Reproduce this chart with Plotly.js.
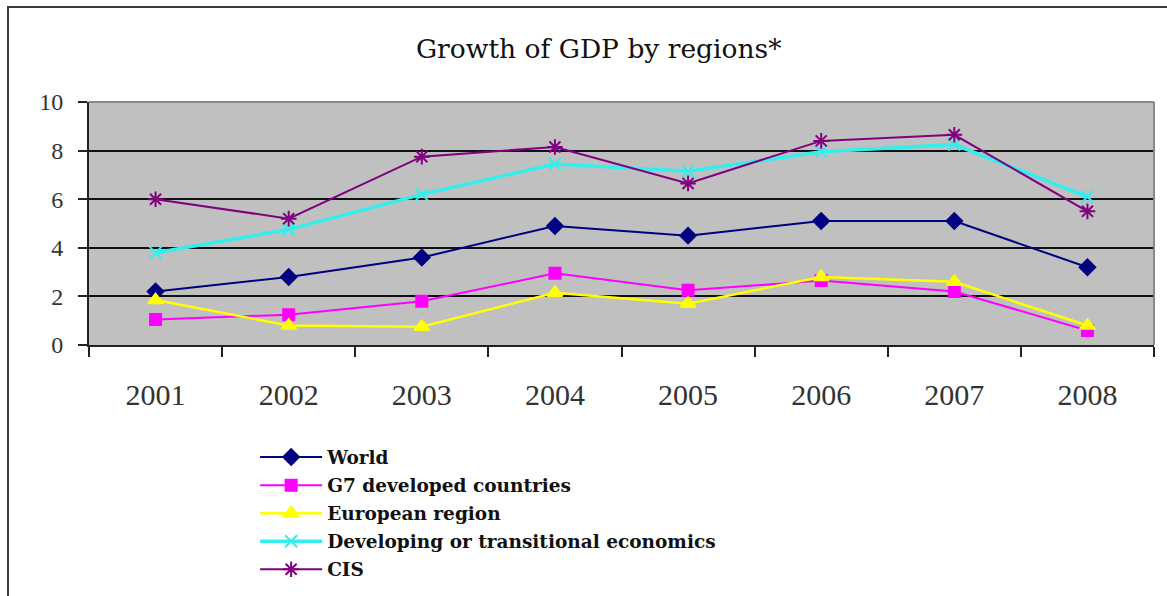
<!DOCTYPE html>
<html>
<head>
<meta charset="utf-8">
<script src="https://cdn.plot.ly/plotly-3.0.1.min.js"></script>
<style>
  html, body { margin: 0; padding: 0; background: #ffffff; }
  #wrap { position: relative; width: 1167px; height: 596px; overflow: hidden; }
  #chart { width: 1167px; height: 596px; }
  #frame { position: absolute; left: 7px; top: 6px; right: -10px; bottom: -10px;
           border-left: 2px solid #3a3a3a; border-top: 2px solid #3a3a3a; pointer-events: none; }
</style>
</head>
<body>
<div id="wrap">
  <div id="chart"></div>
  <div id="frame"></div>
</div>
<script>
const years = ["2001", "2002", "2003", "2004", "2005", "2006", "2007", "2008"];
const world      = [2.2, 2.8, 3.6, 4.9, 4.5, 5.1, 5.1, 3.2];
const g7         = [1.05, 1.25, 1.8, 2.95, 2.25, 2.65, 2.2, 0.6];
const european   = [1.85, 0.8, 0.75, 2.15, 1.7, 2.8, 2.6, 0.8];
const developing = [3.8, 4.75, 6.2, 7.45, 7.15, 7.95, 8.25, 6.1];
const cis        = [6.0, 5.2, 7.75, 8.15, 6.65, 8.4, 8.65, 5.5];
const seriesNames = ["World", "G7 developed countries", "European region",
                     "Developing or transitional economics", "CIS"];

const styles = [
  {color: "#000080", symbol: "diamond", size: 12, lw: 2},
  {color: "#ff00ff", symbol: "square", size: 11, lw: 2},
  {color: "#ffff00", symbol: "triangle-up", size: 13, lw: 2.5},
  {color: "#33eeee", symbol: "x-thin-open", size: 12, lw: 3.5},
  {color: "#800080", symbol: "asterisk-open", size: 13, lw: 2}
];
const values = [world, g7, european, developing, cis];

const traces = values.map((v, i) => ({
  type: "scatter",
  mode: "lines+markers",
  x: years,
  y: v,
  name: seriesNames[i],
  legendgroup: "g" + i,
  line: {color: styles[i].color, width: styles[i].lw},
  marker: {color: styles[i].color, symbol: styles[i].symbol, size: styles[i].size,
           line: {color: styles[i].color, width: 2}}
}));

const layout = {
  width: 1167, height: 596,
  margin: {l: 89, r: 13, t: 102, b: 251, autoexpand: false},
  paper_bgcolor: "#ffffff",
  plot_bgcolor: "#c0c0c0",
  title: {text: "Growth of GDP by regions*", x: 0.513, xanchor: "center", y: 0.918, yanchor: "middle",
          font: {family: "DejaVu Serif", size: 26.5, color: "#111111"}},
  showlegend: true,
  legend: {
    x: 0.156, y: -0.385, xanchor: "left", yanchor: "top",
    bgcolor: "rgba(0,0,0,0)",
    font: {family: "DejaVu Serif", size: 18.5, color: "#111111", weight: "bold"},
    itemwidth: 62,
    tracegroupgap: 1,
    traceorder: "grouped"
  },
  xaxis: {
    type: "category",
    range: [-0.5, 7.5],
    ticks: "outside", tickson: "boundaries", ticklen: 10, tickwidth: 2, tickcolor: "#222222",
    showline: true, linecolor: "#222222", linewidth: 2,
    showgrid: false,
    tickangle: 0,
    automargin: false,
    tickfont: {family: "Liberation Serif", size: 30, color: "#333333"},
    ticklabelstandoff: 22,
    fixedrange: true
  },
  yaxis: {
    range: [0, 10], dtick: 2, tick0: 0,
    ticks: "outside", ticklen: 9, tickwidth: 2, tickcolor: "#222222",
    showline: true, linecolor: "#222222", linewidth: 2,
    showgrid: true, gridcolor: "#111111", gridwidth: 2,
    zeroline: false,
    automargin: false,
    tickfont: {family: "Liberation Serif", size: 24, color: "#333333"},
    ticklabelstandoff: 10,
    fixedrange: true
  },
  shapes: [
    {type: "line", xref: "paper", yref: "paper", x0: 0, x1: 1, y0: 1, y1: 1,
     line: {color: "#888888", width: 2}, layer: "above"},
    {type: "line", xref: "paper", yref: "paper", x0: 1, x1: 1, y0: 0, y1: 1,
     line: {color: "#888888", width: 2}, layer: "above"}
  ]
};

Plotly.newPlot("chart", traces, layout, {displayModeBar: false, staticPlot: true});
</script>
</body>
</html>
